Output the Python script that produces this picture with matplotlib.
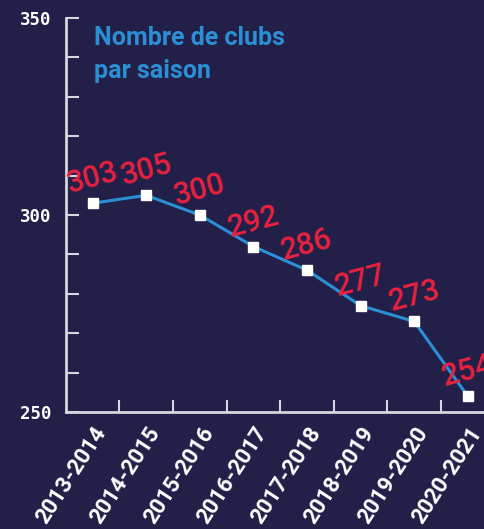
import matplotlib.pyplot as plt

seasons = ['2013-2014', '2014-2015', '2015-2016', '2016-2017',
           '2017-2018', '2018-2019', '2019-2020', '2020-2021']
clubs = [303, 305, 300, 292, 286, 277, 273, 254]
y_ticks = [250, 300, 350]

bg = '#221f49'
line_blue = '#2b8fd4'
label_red = '#e8223f'
axis_grey = '#d6d6de'

fig = plt.figure(figsize=(4.84, 5.29), dpi=100, facecolor=bg)
ax = fig.add_axes([0.136, 0.221, 0.886, 0.745], facecolor=bg)

x = list(range(len(seasons)))
ax.plot(x, clubs, color=line_blue, lw=2.2, marker='s', markersize=7.5,
        markerfacecolor='white', markeredgecolor='white', zorder=3,
        clip_on=False)

# red value labels, tilted above each point
for xi, v in zip(x, clubs):
    ax.annotate(str(v), (xi, v), xytext=(0, 18), textcoords='offset points',
                ha='center', va='center', rotation=15, color=label_red,
                fontsize=22, family='Roboto', fontweight='medium',
                annotation_clip=False, zorder=4)

ax.set_xlim(-0.5, len(seasons) - 0.5)
ax.set_ylim(250, 350)

for s in ['top', 'right']:
    ax.spines[s].set_visible(False)
for s in ['left', 'bottom']:
    ax.spines[s].set_color(axis_grey)
    ax.spines[s].set_linewidth(2)

ax.set_yticks(range(250, 351, 10))
ax.set_yticklabels([str(t) if t in y_ticks else '' for t in range(250, 351, 10)],
                   family='DejaVu Sans Mono', fontweight='bold', fontsize=12.5,
                   color='white')
ax.tick_params(axis='y', direction='in', length=9, width=1.5,
               color=axis_grey, pad=10)

# tick marks sit between categories, labels under each category
ax.set_xticks([i + 0.5 for i in range(len(seasons) - 1)], minor=False)
ax.set_xticklabels([])
ax.set_xticks(x, minor=True)
ax.set_xticklabels(seasons, minor=True, rotation=57, ha='right',
                   rotation_mode='anchor', color='white', fontsize=16,
                   fontweight='bold', family='Roboto')
ax.tick_params(axis='x', which='major', direction='in', length=9, width=1.5,
               color=axis_grey)
ax.tick_params(axis='x', which='minor', length=0, pad=8)

fig.text(0.194, 0.950, 'Nombre de clubs\npar saison', color=line_blue,
         fontsize=18, fontweight='bold', ha='left', va='top',
         family='Roboto', linespacing=1.45)

fig.savefig('out.png', dpi=100, facecolor=bg)
